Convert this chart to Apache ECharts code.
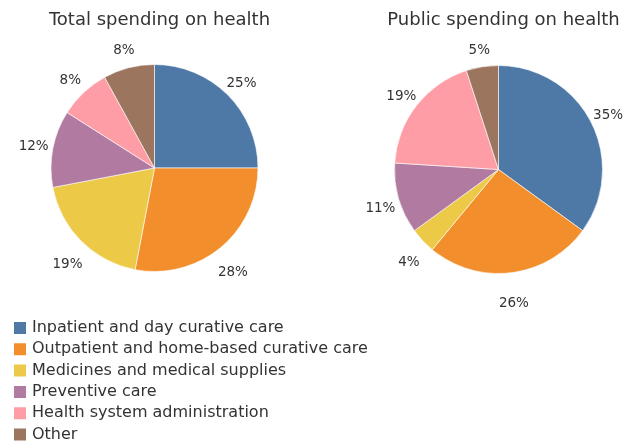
<!DOCTYPE html>
<html>
<head>
<meta charset="utf-8">
<script src="https://cdn.jsdelivr.net/npm/echarts@6/dist/echarts.min.js"></script>
<style>
  html, body { margin: 0; padding: 0; background: #fff; }
  #chart { width: 632px; height: 443px; }
</style>
</head>
<body>
<div id="chart"></div>
<script>
// Spending categories and their shares (%)
const categories = [
  'Inpatient and day curative care',
  'Outpatient and home-based curative care',
  'Medicines and medical supplies',
  'Preventive care',
  'Health system administration',
  'Other'
];
const totalSpending = [25, 28, 19, 12, 8, 8];
const publicSpending = [35, 26, 4, 11, 19, 5];
const chartTitles = ['Total spending on health', 'Public spending on health'];
const palette = ['#4e79a7', '#f28e2b', '#edc948', '#b07aa1', '#ff9da7', '#9c755f'];

const FONT = '"DejaVu Sans", "Open Sans", sans-serif';
const TEXT = '#333333';
const LABEL_R = 120;     // ring radius carrying the value labels
const LABEL_DROP = 2;    // ring centre sits slightly below the pie centre
const LOWER_PUSH = 10;   // extra drop for labels below the centre

function toData(values) {
  return categories.map((name, i) => ({ name, value: values[i] }));
}

// Visible pie with thin white slice separators
function piePart(values, center, radius) {
  return {
    type: 'pie',
    center,
    radius,
    startAngle: 90,
    clockwise: true,
    avoidLabelOverlap: false,
    silent: true,
    label: { show: false },
    labelLine: { show: false },
    itemStyle: { borderColor: '#ffffff', borderWidth: 0.6 },
    emphasis: { disabled: true },
    data: toData(values)
  };
}

// Transparent ring whose centred labels sit just outside the pie
function labelRing(values, center) {
  const ringCenter = [center[0], center[1] + LABEL_DROP];
  return {
    type: 'pie',
    center: ringCenter,
    radius: [LABEL_R - 12, LABEL_R + 12],
    startAngle: 90,
    clockwise: true,
    avoidLabelOverlap: false,
    silent: true,
    legendHoverLink: false,
    itemStyle: { color: 'rgba(0,0,0,0)' },
    label: {
      show: true,
      position: 'inside',
      formatter: '{c}%',
      color: TEXT,
      fontFamily: FONT,
      fontSize: 13.5
    },
    labelLine: { show: false },
    labelLayout: function (p) {
      const ly = p.labelRect.y + p.labelRect.height / 2;
      const s = (ly - ringCenter[1]) / LABEL_R;
      return { dy: s > 0 ? s * LOWER_PUSH : 0 };
    },
    emphasis: { disabled: true },
    data: toData(values)
  };
}

const leftCenter = [154.5, 168];
const rightCenter = [498.5, 169.5];

const chart = echarts.init(document.getElementById('chart'), null, { renderer: 'canvas' });
chart.setOption({
  animation: false,
  color: palette,
  title: [
    {
      text: chartTitles[0], left: leftCenter[0], top: 6, textAlign: 'center',
      textStyle: { fontFamily: FONT, fontSize: 18, fontWeight: 'normal', color: TEXT }
    },
    {
      text: chartTitles[1], left: rightCenter[0], top: 6, textAlign: 'center',
      textStyle: { fontFamily: FONT, fontSize: 18, fontWeight: 'normal', color: TEXT }
    }
  ],
  legend: {
    orient: 'vertical',
    left: 12,
    top: 320,
    bottom: -40,
    padding: 0,
    icon: 'rect',
    itemWidth: 14,
    itemHeight: 14,
    itemGap: 5.3,
    selectedMode: false,
    data: categories,
    textStyle: { fontFamily: FONT, fontSize: 16, color: TEXT, lineHeight: 16 }
  },
  series: [
    piePart(totalSpending, leftCenter, 103.5),
    piePart(publicSpending, rightCenter, 104),
    labelRing(totalSpending, leftCenter),
    labelRing(publicSpending, rightCenter)
  ]
});
</script>
</body>
</html>
